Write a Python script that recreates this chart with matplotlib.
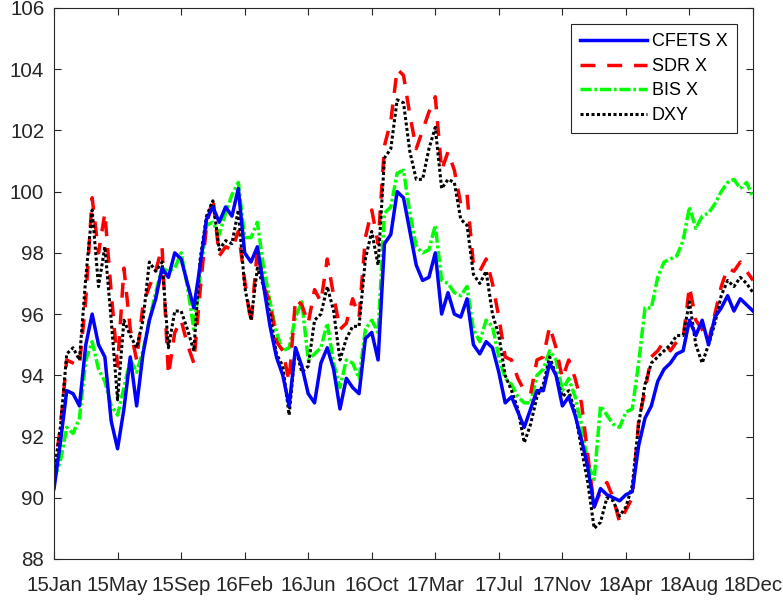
import numpy as np
import matplotlib
matplotlib.use("Agg")
import matplotlib.pyplot as plt

plt.rcParams["font.family"] = ["Liberation Sans", "DejaVu Sans"]

# values, one sample every 1/10 of a tick interval
cfets = [90.3, 91.8, 93.5, 93.4, 93.0, 95.0, 96.0, 95.0, 94.6, 92.5,
         91.6, 92.9, 94.6, 93.0, 94.7, 95.8, 96.5, 97.5, 97.2, 98.0,
         97.8, 97.0, 96.2, 97.6, 99.1, 99.5, 99.0, 99.5, 99.2, 100.1,
         98.0, 97.7, 98.2, 96.9, 95.6, 94.6, 94.0, 93.0, 94.9, 94.3,
         93.4, 93.1, 94.4, 94.9, 94.2, 92.9, 93.9, 93.6, 93.4, 95.2,
         95.4, 94.5, 98.3, 98.6, 100.0, 99.8, 98.7, 97.6, 97.1, 97.2,
         98.0, 96.0, 96.7, 96.0, 95.9, 96.5, 95.0, 94.7, 95.1, 94.9,
         94.1, 93.1, 93.3, 92.8, 92.3, 92.9, 93.5, 93.5, 94.4, 94.0,
         93.0, 93.3, 92.7, 91.9, 91.0, 89.7, 90.3, 90.1, 90.0, 89.9,
         90.1, 90.2, 91.7, 92.6, 93.0, 93.8, 94.2, 94.4, 94.7, 94.8,
         95.8, 95.3, 95.8, 95.0, 95.9, 96.2, 96.6, 96.1, 96.5, 96.3,
         96.1]

sdr = [90.8, 92.3, 94.5, 94.4, 94.3, 96.5, 99.8, 98.0, 99.3, 96.7,
       94.3, 97.5, 95.5, 94.5, 96.3, 96.9, 97.4, 98.2, 94.0, 95.4,
       95.8, 95.0, 94.4, 96.8, 98.9, 99.8, 97.9, 98.2, 98.1, 98.7,
       97.1, 95.7, 98.1, 96.9, 96.4, 95.1, 94.8, 93.8, 96.5, 96.3,
       95.7, 96.8, 96.4, 97.8, 96.6, 95.5, 95.7, 96.5, 95.9, 98.5,
       99.4, 98.3, 101.5, 102.3, 104.0, 103.8, 102.5, 101.4, 102.0, 102.6,
       103.1, 100.7, 101.3, 100.7, 99.6, 99.9, 97.6, 97.4, 97.8, 97.0,
       95.9, 94.6, 94.5, 93.9, 93.5, 93.4, 94.5, 94.6, 95.6, 94.9,
       93.9, 94.5, 93.9, 93.1, 91.4, 89.7, 90.2, 90.5, 90.0, 89.2,
       89.6, 90.0, 92.5, 93.5, 94.6, 94.8, 95.1, 94.8, 95.1, 95.2,
       96.9, 95.8, 95.5, 95.1, 96.0, 96.9, 97.5, 97.4, 97.7, 97.4,
       97.1]

bis = [90.6, 91.2, 92.3, 92.1, 92.6, 94.5, 95.1, 94.2, 93.8, 93.0,
       92.7, 93.6, 94.5, 94.1, 94.8, 95.8, 96.7, 97.5, 97.4, 97.5,
       98.0, 96.9, 95.5, 97.3, 98.9, 99.0, 98.6, 99.3, 99.9, 100.3,
       98.5, 98.5, 99.0, 97.5, 96.4, 95.4, 94.8, 94.9, 95.9, 96.4,
       94.5, 94.7, 94.9, 95.7, 94.4, 93.6, 94.5, 94.4, 93.9, 95.5,
       95.8, 95.4, 99.3, 99.5, 100.6, 100.7, 99.3, 98.2, 98.0, 98.1,
       98.9, 97.1, 97.0, 96.7, 96.6, 96.9, 95.5, 95.1, 95.8, 95.6,
       94.6, 93.9, 93.7, 93.3, 93.1, 93.1, 94.0, 94.2, 94.8, 94.5,
       93.5, 93.9, 93.3, 92.4, 91.1, 90.6, 93.0, 92.7, 92.4, 92.3,
       92.8, 92.9, 94.4, 96.2, 96.2, 97.2, 97.7, 97.8, 97.9, 98.4,
       99.5, 98.8, 99.2, 99.3, 99.6, 100.0, 100.3, 100.4, 100.1, 100.3,
       99.8]

dxy = [90.8, 92.3, 94.7, 94.9, 94.5, 97.2, 99.4, 96.9, 98.2, 95.8,
       93.2, 95.8, 95.3, 94.9, 95.8, 97.7, 97.4, 97.7, 94.9, 96.1,
       96.1, 95.5, 94.8, 97.8, 99.2, 99.7, 98.1, 98.4, 98.3, 99.4,
       96.9, 95.8, 97.5, 96.9, 96.0, 94.7, 94.3, 92.7, 94.9, 94.1,
       94.3, 95.8, 96.0, 96.9, 96.1, 94.5, 95.2, 95.6, 95.6, 97.8,
       98.7, 97.6, 101.1, 101.4, 103.0, 102.9, 101.3, 100.4, 100.4, 101.4,
       102.1, 100.1, 100.4, 100.3, 99.1, 98.9, 97.3, 97.0, 97.4, 96.0,
       95.3, 94.0, 93.5, 92.9, 91.8, 92.4, 93.3, 93.7, 94.6, 94.0,
       93.3, 93.5, 92.8, 91.6, 90.5, 89.0, 89.2, 90.0, 89.9, 89.4,
       89.7, 90.4, 92.4, 93.7, 94.4, 94.6, 94.8, 95.0, 95.3, 95.3,
       96.4, 95.0, 94.4, 95.0, 95.7, 96.6, 97.1, 96.9, 97.2, 97.0,
       96.7]

tick_labels = ["15Jan", "15May", "15Sep", "16Feb", "16Jun", "16Oct",
               "17Mar", "17Jul", "17Nov", "18Apr", "18Aug", "18Dec"]
samples_per_tick = 10

x = np.arange(len(cfets))

fig = plt.figure(figsize=(7.83, 6.03), dpi=100)
ax = fig.add_axes([0.069, 0.073, 0.8927, 0.9138])

lw = 2.5
l_bis, = ax.plot(x, bis, color=(0, 1, 0), lw=lw, dashes=(3.2, 0.8, 0.8, 0.8), label="BIS X")
l_sdr, = ax.plot(x, sdr, color=(1, 0, 0), lw=lw, dashes=(4.3, 3.4), label="SDR X")
l_dxy, = ax.plot(x, dxy, color="black", lw=2.2, dashes=(1.0, 0.8), label="DXY")
l_cf, = ax.plot(x, cfets, color=(0, 0, 1), lw=lw, label="CFETS X")

ax.set_xlim(0, len(cfets) - 1)
ax.set_ylim(88, 106)
ax.set_yticks(np.arange(88, 107, 2))
ax.set_xticks(np.arange(0, len(cfets), samples_per_tick))
ax.set_xticklabels(tick_labels)

for s in ax.spines.values():
    s.set_color("#262626")
    s.set_linewidth(0.8)
ax.tick_params(direction="in", length=5, width=0.8, color="#262626",
               labelcolor="#262626", labelsize=14.8, top=True, right=True)
ax.tick_params(axis="y", pad=7)
ax.tick_params(axis="x", pad=12)

leg = ax.legend([l_cf, l_sdr, l_bis, l_dxy], ["CFETS X", "SDR X", "BIS X", "DXY"],
                loc="upper right", fontsize=13, fancybox=False, framealpha=1,
                edgecolor="#262626", handlelength=3.7, handletextpad=0.3,
                labelspacing=0.42, borderaxespad=0.9, borderpad=0.5)
leg.get_frame().set_linewidth(0.8)

fig.savefig("out.png", dpi=100)
